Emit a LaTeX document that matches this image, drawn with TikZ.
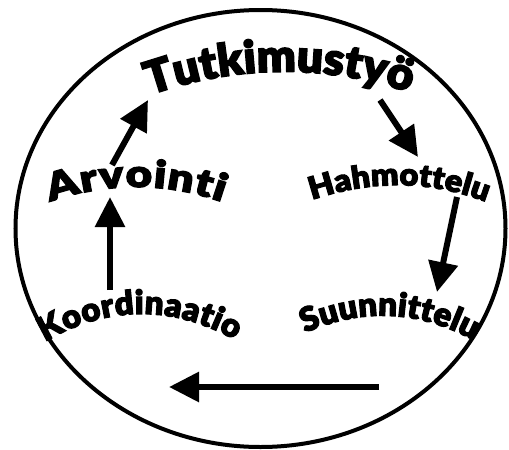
\documentclass[tikz,border=0pt]{standalone}
\usepackage{fontspec}
\usetikzlibrary{arrows.meta,decorations.text,shapes.geometric}
\newfontfamily\heavy{Lato Black}[FakeBold=3.5]
\tikzset{
  flowarrow/.style={line width=6pt,-{Triangle[length=30pt,width=29pt]}},
  archtext/.style n args={3}{decorate,decoration={text along path,
      text={|\heavy\addfontfeature{FakeStretch=#2}\fontsize{#1}{#1}\selectfont|#3},text align={fit to path}}}
}
\begin{document}
\begin{tikzpicture}[x=1pt,y=-1pt]
\useasboundingbox (0,0) rectangle (509,450);
\node[draw,line width=4pt,ellipse,minimum width=490pt,minimum height=437pt,inner sep=0pt] (ring) at (260.5,228.5) {};
% arched words
\path[archtext={45}{1.02}{Tutkimustyö}] (150,95) .. controls (237,65) and (323,64) .. (408,92);
\path[archtext={38}{1.2}{Arvointi}] (50,202) .. controls (107,182) and (165,182) .. (222,202);
\path[archtext={31}{1.05}{Hahmottelu}] (312,200) .. controls (371,180) and (429,180) .. (486,202);
\path[archtext={33}{1.0}{Koordinaatio}] (45,342) .. controls (108,305) and (172,305) .. (235,340);
\path[archtext={33}{1.0}{Suunnittelu}] (305,333) .. controls (362,308) and (417,310) .. (473,340);
% arrow end points
\coordinate (a1) at (112,165); \coordinate (b1) at (148,100);
\coordinate (a2) at (380,100); \coordinate (b2) at (418,157);
\coordinate (a3) at (457,197); \coordinate (b3) at (437,292);
\coordinate (a4) at (379,387); \coordinate (b4) at (169,387);
\coordinate (a5) at (110,290); \coordinate (b5) at (110,197);
\draw[flowarrow] (a1) -- (b1);
\draw[flowarrow] (a2) -- (b2);
\draw[flowarrow] (a3) -- (b3);
\draw[flowarrow] (a4) -- (b4);
\draw[flowarrow] (a5) -- (b5);
\end{tikzpicture}
\end{document}
